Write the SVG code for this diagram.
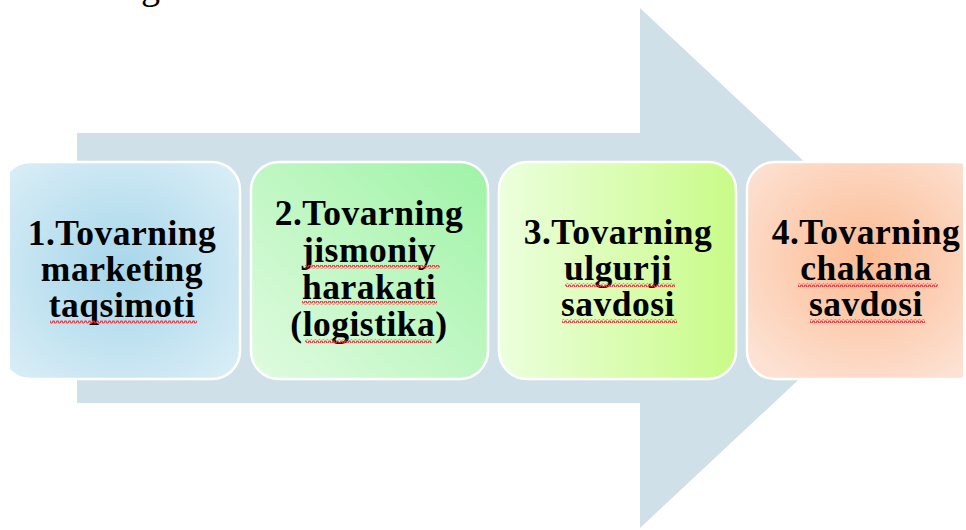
<svg xmlns="http://www.w3.org/2000/svg" width="966" height="530" viewBox="0 0 966 530">
  <defs>
    <style>
      .box { stroke: #ffffff; stroke-width: 2.5; }
      .lbl { font-family: "Liberation Serif", "Times New Roman", serif; font-weight: bold; font-size: 35.5px; letter-spacing: 0.5px; fill: #000000; text-anchor: middle; }
      .head { font-family: "Liberation Serif", "Times New Roman", serif; font-size: 38px; fill: #000000; }
      .squig { fill: url(#wave); }
    </style>
    <radialGradient id="g1" cx="0.5" cy="0.5" r="0.65">
      <stop offset="0" stop-color="#a6d6ea"/>
      <stop offset="1" stop-color="#d8edf6"/>
    </radialGradient>
    <linearGradient id="g2" x1="1" y1="0" x2="0" y2="1">
      <stop offset="0" stop-color="#9ff3a6"/>
      <stop offset="1" stop-color="#e0fbe0"/>
    </linearGradient>
    <linearGradient id="g3" x1="0" y1="0" x2="1" y2="0">
      <stop offset="0" stop-color="#ecffdd"/>
      <stop offset="1" stop-color="#c9fb88"/>
    </linearGradient>
    <radialGradient id="g4" cx="0.5" cy="0.45" r="0.65">
      <stop offset="0" stop-color="#fbbb92"/>
      <stop offset="1" stop-color="#fde2d4"/>
    </radialGradient>
    <!-- wavy red underline -->
    <pattern id="wave" width="4" height="4" patternUnits="userSpaceOnUse">
      <path d="M0,3 L1,1 L2,1 L3,3 L4,3" fill="none" stroke="#f0303a" stroke-width="1.2"/>
    </pattern>
    <clipPath id="frame">
      <rect x="10" y="0" width="953" height="530"/>
    </clipPath>
  </defs>

  <rect width="966" height="530" fill="#ffffff"/>

  <!-- partially visible heading letter at the top edge -->
  <text class="head" x="141" y="-1">g</text>

  <!-- big background arrow -->
  <g id="connectors">
    <polygon points="77,133 640,133 640,8 918,268 640,528 640,403 77,403" fill="#cfe0e9"/>
  </g>

  <g clip-path="url(#frame)">
    <g id="node1">
      <rect class="box" x="2" y="162" width="238" height="217" rx="28" fill="url(#g1)"/>
      <text class="lbl" x="122" y="245">1.Tovarning</text>
      <text class="lbl" x="122" y="281">marketing</text>
      <text class="lbl" x="122" y="317">taqsimoti</text>
      <rect class="squig" x="50" y="320" width="147" height="4"/>
    </g>

    <g id="node2">
      <rect class="box" x="251" y="162" width="237" height="217" rx="28" fill="url(#g2)"/>
      <text class="lbl" x="369" y="225">2.Tovarning</text>
      <text class="lbl" x="369" y="262">jismoniy</text>
      <text class="lbl" x="369" y="299">harakati</text>
      <text class="lbl" x="369" y="336">(logistika)</text>
      <rect class="squig" x="305" y="265" width="135" height="4"/>
      <rect class="squig" x="302" y="301" width="135" height="4"/>
      <rect class="squig" x="305" y="339" width="127" height="4"/>
    </g>

    <g id="node3">
      <rect class="box" x="499" y="162" width="237" height="217" rx="28" fill="url(#g3)"/>
      <text class="lbl" x="618" y="244">3.Tovarning</text>
      <text class="lbl" x="618" y="280">ulgurji</text>
      <text class="lbl" x="618" y="316">savdosi</text>
      <rect class="squig" x="565" y="283" width="110" height="4"/>
      <rect class="squig" x="562" y="319" width="115" height="4"/>
    </g>

    <g id="node4">
      <rect class="box" x="747" y="162" width="238" height="217" rx="28" fill="url(#g4)"/>
      <text class="lbl" x="866" y="244">4.Tovarning</text>
      <text class="lbl" x="866" y="280">chakana</text>
      <text class="lbl" x="866" y="316">savdosi</text>
      <rect class="squig" x="798" y="283" width="140" height="4"/>
      <rect class="squig" x="810" y="319" width="115" height="4"/>
    </g>
  </g>
</svg>
